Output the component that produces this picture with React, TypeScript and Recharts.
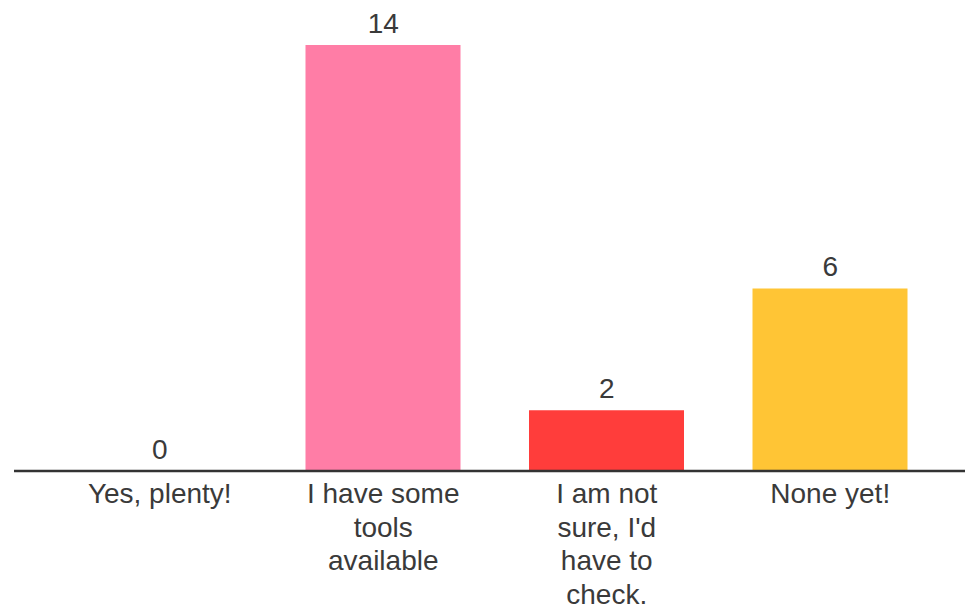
import React from 'react';
import { ComposedChart, Bar, Line, XAxis, YAxis, Cell } from 'recharts';

const categories = [
  'Yes, plenty!',
  'I have some\ntools\navailable',
  "I am not\nsure, I'd\nhave to\ncheck.",
  'None yet!',
];
const responses = [0, 14, 2, 6];
const barColors = ['#FF7DA6', '#FF7DA6', '#FF3D3B', '#FFC535'];

const data = categories.map((name, i) => ({ name, value: responses[i] }));

const FONT = '"Liberation Sans", Arial, sans-serif';
const TEXT = '#3a3a3a';

interface TickProps {
  x?: number;
  y?: number;
  payload?: { value: string };
}

const WrappedTick = ({ x = 0, y = 0, payload }: TickProps) => {
  const lines = (payload?.value ?? '').split('\n');
  return (
    <text x={x} y={y} textAnchor="middle" fill={TEXT} fontSize={28} fontFamily={FONT}>
      {lines.map((line, i) => (
        <tspan key={i} x={x} dy={i === 0 ? 32 : 33.5}>
          {line}
        </tspan>
      ))}
    </text>
  );
};

// value label above each bar top (zero included), placed on the line's points
const ValueLabel = (props: any) => {
  const { x = 0, y = 0, value } = props;
  return (
    <text
      x={Number(x)}
      y={Number(y) - 12}
      textAnchor="middle"
      fill={TEXT}
      fontSize={28}
      fontFamily={FONT}
    >
      {value}
    </text>
  );
};

export default function App() {
  return (
    <div style={{ position: 'absolute', left: 0, top: 0, background: '#fff' }}>
      <ComposedChart
        width={965}
        height={609}
        data={data}
        margin={{ top: 45, right: 0, left: 14, bottom: 0 }}
        barSize={155}
      >
        <XAxis
          dataKey="name"
          height={138}
          interval={0}
          padding={{ left: 34, right: 23 }}
          tickLine={false}
          tickMargin={0}
          tickSize={0}
          axisLine={{ stroke: '#333', strokeWidth: 2.5 }}
          tick={<WrappedTick />}
        />
        <YAxis hide domain={[0, 14]} />
        <Bar dataKey="value" isAnimationActive={false}>
          {data.map((_, i) => (
            <Cell key={`cell-${i}`} fill={barColors[i]} />
          ))}
        </Bar>
        <Line
          dataKey="value"
          stroke="none"
          dot={false}
          activeDot={false}
          label={<ValueLabel />}
          isAnimationActive={false}
        />
      </ComposedChart>
    </div>
  );
}
